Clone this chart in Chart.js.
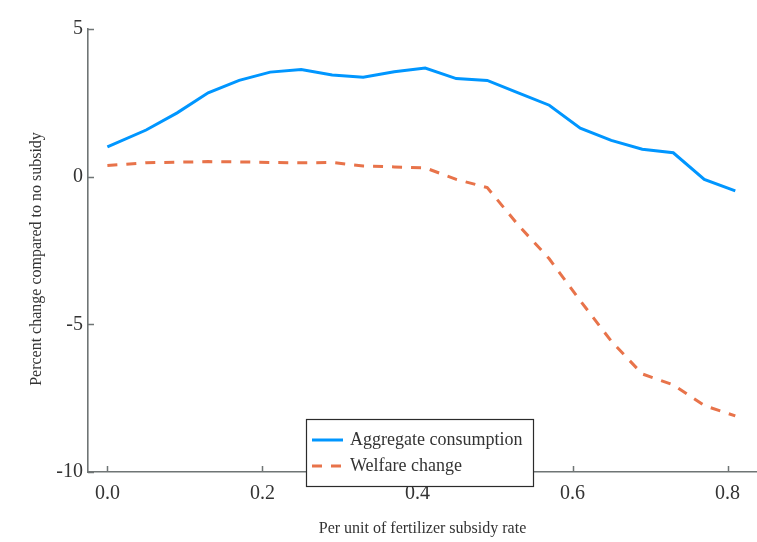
<!DOCTYPE html>
<html>
<head>
<meta charset="utf-8">
<style>
  html, body { margin: 0; padding: 0; background: #fff; }
  #wrap { width: 757px; height: 542px; }
</style>
<script src="https://cdn.jsdelivr.net/npm/chart.js@4.4.1/dist/chart.umd.min.js"></script>
</head>
<body>
<div id="wrap"><canvas id="chart" width="757" height="542"></canvas></div>
<script>
// subsidy rate (x) and the two series
const subsidyRate = [0, 0.05, 0.09, 0.13, 0.17, 0.21, 0.25, 0.29, 0.33, 0.37, 0.41,
                     0.45, 0.49, 0.53, 0.57, 0.61, 0.65, 0.69, 0.73, 0.77, 0.81];
const aggConsumption = [1.01, 1.58, 2.16, 2.84, 3.26, 3.54, 3.63, 3.44, 3.37, 3.55, 3.68,
                        3.32, 3.26, 2.84, 2.42, 1.64, 1.23, 0.93, 0.81, -0.09, -0.48];
const welfareChange = [0.38, 0.47, 0.49, 0.51, 0.50, 0.48, 0.47, 0.48, 0.36, 0.33, 0.30,
                       -0.09, -0.37, -1.64, -2.78, -4.2, -5.57, -6.68, -7.05, -7.75, -8.1];
const seriesNames = ['Aggregate consumption', 'Welfare change'];
const xTicks = [0, 0.2, 0.4, 0.6, 0.8];
const yTicks = [5, 0, -5, -10];

const FONT = '"Liberation Serif", "Times New Roman", serif';
const AXIS = '#6f7575';
const TEXT = '#333';

const toPoints = (ys) => subsidyRate.map((x, i) => ({ x: x, y: ys[i] }));

// inward ticks, y title and the boxed legend
const extras = {
    id: 'extras',
    afterDatasetsDraw(chart) {
        const ctx = chart.ctx;
        const xs = chart.scales.x, ys = chart.scales.y;
        const area = chart.chartArea;
        ctx.save();
        ctx.strokeStyle = AXIS;
        ctx.lineWidth = 1.5;
        ctx.beginPath();
        xTicks.forEach(v => {
            const px = Math.round(xs.getPixelForValue(v)) + 0.5;
            ctx.moveTo(px, area.bottom);
            ctx.lineTo(px, area.bottom - 6);
        });
        yTicks.forEach(v => {
            const py = Math.round(ys.getPixelForValue(v)) + 0.5;
            ctx.moveTo(area.left, py);
            ctx.lineTo(area.left + 6, py);
        });
        ctx.stroke();

        // y title
        ctx.translate(37, 259);
        ctx.rotate(-Math.PI / 2);
        ctx.fillStyle = TEXT;
        ctx.font = '16px ' + FONT;
        ctx.textAlign = 'center';
        ctx.textBaseline = 'middle';
        ctx.fillText('Percent change compared to no subsidy', 0, 0);
        ctx.restore();
    },
    afterDraw(chart) {
        const ctx = chart.ctx;
        ctx.save();
        const bx = 306, by = 419, bw = 227, bh = 67;
        ctx.fillStyle = '#fff';
        ctx.fillRect(bx, by, bw, bh);
        ctx.strokeStyle = '#2b2b2b';
        ctx.lineWidth = 1.2;
        ctx.strokeRect(bx + 0.5, by + 0.5, bw, bh);
        ctx.font = '18px ' + FONT;
        ctx.textBaseline = 'middle';
        chart.data.datasets.forEach((ds, i) => {
            const cy = 440 + i * 26;
            ctx.strokeStyle = ds.borderColor;
            ctx.lineWidth = ds.borderWidth;
            ctx.setLineDash(ds.borderDash || []);
            ctx.beginPath();
            ctx.moveTo(312, cy);
            ctx.lineTo(343, cy);
            ctx.stroke();
            ctx.setLineDash([]);
            ctx.fillStyle = TEXT;
            ctx.fillText(ds.label, 350, cy);
        });
        ctx.restore();
    }
};

new Chart(document.getElementById('chart'), {
    type: 'line',
    data: {
        datasets: [{
            label: seriesNames[0],
            data: toPoints(aggConsumption),
            borderColor: '#0096ff',
            borderWidth: 3,
            pointRadius: 0,
            tension: 0,
            fill: false
        }, {
            label: seriesNames[1],
            data: toPoints(welfareChange),
            borderColor: '#e8734a',
            borderWidth: 3,
            borderDash: [10, 9],
            pointRadius: 0,
            tension: 0,
            fill: false
        }]
    },
    options: {
        responsive: false,
        animation: false,
        devicePixelRatio: 1,
        layout: { padding: { top: 29, right: 0, bottom: 0, left: 0 } },
        plugins: {
            legend: { display: false },
            tooltip: { enabled: false }
        },
        scales: {
            x: {
                type: 'linear',
                min: -0.025,
                max: 0.838,
                afterBuildTicks: (scale) => { scale.ticks = xTicks.map(v => ({ value: v })); },
                afterFit: (scale) => { scale.height = 70; },
                grid: { display: true, drawOnChartArea: false, drawTicks: false },
                border: { display: true, color: AXIS, width: 1.6 },
                ticks: {
                    padding: 10,
                    color: TEXT,
                    font: { family: FONT, size: 20 },
                    maxRotation: 0,
                    callback: (v) => Number(v).toFixed(1)
                },
                title: {
                    display: true,
                    text: 'Per unit of fertilizer subsidy rate',
                    color: TEXT,
                    font: { family: FONT, size: 16 },
                    padding: { top: 0, bottom: 4 }
                }
            },
            y: {
                min: -10,
                max: 5,
                afterBuildTicks: (scale) => { scale.ticks = yTicks.map(v => ({ value: v })); },
                afterFit: (scale) => { scale.width = 88; },
                grid: { display: true, drawOnChartArea: false, drawTicks: false },
                border: { display: true, color: AXIS, width: 1.6 },
                ticks: {
                    padding: 5,
                    color: TEXT,
                    font: { family: FONT, size: 20 },
                    callback: (v) => String(v)
                }
            }
        }
    },
    plugins: [extras]
});
</script>
</body>
</html>
